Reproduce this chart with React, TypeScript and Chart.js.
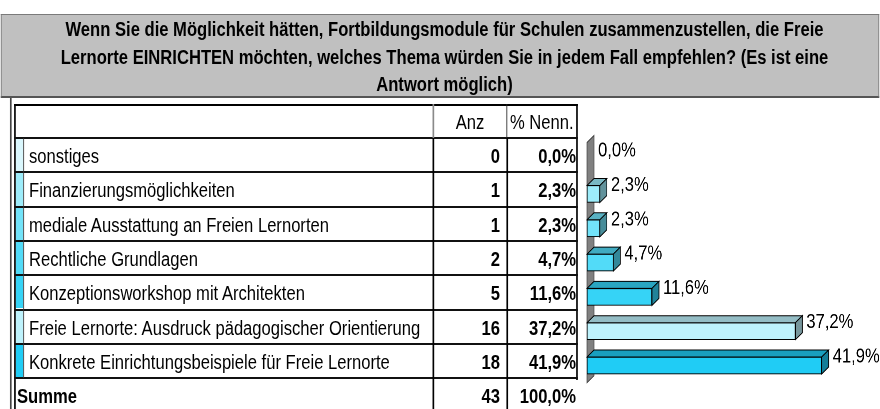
import React, { useEffect, useRef } from "react";
import { Chart, registerables } from "chart.js";

Chart.register(...registerables);

// ---- data ----
const titleLines = [
  "Wenn Sie die Möglichkeit hätten, Fortbildungsmodule für Schulen zusammenzustellen, die Freie",
  "Lernorte EINRICHTEN möchten, welches Thema würden Sie in jedem Fall empfehlen? (Es ist eine",
  "Antwort möglich)",
];
const categories = [
  "sonstiges",
  "Finanzierungsmöglichkeiten",
  "mediale Ausstattung an Freien Lernorten",
  "Rechtliche Grundlagen",
  "Konzeptionsworkshop mit Architekten",
  "Freie Lernorte: Ausdruck pädagogischer Orientierung",
  "Konkrete Einrichtungsbeispiele für Freie Lernorte",
];
const counts = [0, 1, 1, 2, 5, 16, 18];
const percents = [0.0, 2.3, 2.3, 4.7, 11.6, 37.2, 41.9];
const rowColors = ["#DAF7FD", "#9DECFA", "#72E3F9", "#52DBF8", "#36D3F6", "#BEF2FC", "#20CCF5"];
const headerLabels = ["Anz", "% Nenn."];
const totalLabel = "Summe";
const totalCount = 43;
const totalPercent = 100.0;
const axisMax = 50;

const fmt = (v: number) => v.toFixed(1).replace(".", ",") + "%";

// ---- layout (the picture is horizontally compressed) ----
const S = 880 / 1060;
const X = (real: number) => real / S;
const FONT = "'Liberation Sans', Arial, Helvetica, sans-serif";

const tableLeft = X(14);
const stripRight = X(24);
const col1 = X(433);
const col2 = X(507);
const tableRight = X(578);
const headTop = 104;
const bodyTop = 138;
const rowH = 34.3;
const sumTop = bodyTop + categories.length * rowH;

function shade(hex: string, f: number) {
  const n = parseInt(hex.slice(1), 16);
  const r = Math.round(((n >> 16) & 255) * f);
  const g = Math.round(((n >> 8) & 255) * f);
  const b = Math.round((n & 255) * f);
  return `rgb(${r},${g},${b})`;
}

const DX = X(7);
const DY = 7;

const bar3d = {
  id: "bar3d",
  beforeDatasetsDraw(chart: any) {
    const { ctx, chartArea } = chart;
    const l = chartArea.left;
    const t = chartArea.top;
    const b = chartArea.bottom;
    ctx.save();
    ctx.beginPath();
    ctx.moveTo(l, b);
    ctx.lineTo(l, t);
    ctx.lineTo(l + DX, t - DY);
    ctx.lineTo(l + DX, b - DY);
    ctx.closePath();
    ctx.fillStyle = "#808080";
    ctx.fill();
    ctx.strokeStyle = "#3a3a3a";
    ctx.lineWidth = 1;
    ctx.stroke();
    ctx.restore();
  },
  afterDatasetsDraw(chart: any) {
    const { ctx } = chart;
    const meta = chart.getDatasetMeta(0);
    const ds = chart.data.datasets[0];
    ctx.save();
    meta.data.forEach((el: any, i: number) => {
      const { x, y, base, height } = el.getProps(["x", "y", "base", "height"], true);
      const top = y - height / 2;
      const bottom = y + height / 2;
      const v = ds.data[i] as number;
      const col = (ds.backgroundColor as string[])[i];
      if (v > 0) {
        ctx.lineWidth = 1;
        ctx.strokeStyle = "#000";
        ctx.beginPath();
        ctx.moveTo(base, top);
        ctx.lineTo(base + DX, top - DY);
        ctx.lineTo(x + DX, top - DY);
        ctx.lineTo(x, top);
        ctx.closePath();
        ctx.fillStyle = shade(col, 0.78);
        ctx.fill();
        ctx.stroke();
        ctx.beginPath();
        ctx.moveTo(x, top);
        ctx.lineTo(x + DX, top - DY);
        ctx.lineTo(x + DX, bottom - DY);
        ctx.lineTo(x, bottom);
        ctx.closePath();
        ctx.fillStyle = shade(col, 0.62);
        ctx.fill();
        ctx.stroke();
      }
      ctx.fillStyle = "#000";
      ctx.font = `20px ${FONT}`;
      ctx.textBaseline = "middle";
      ctx.textAlign = "left";
      ctx.fillText(fmt(v), x + DX + X(4), top);
    });
    ctx.restore();
  },
};

const CANVAS_LEFT = 690;
const CANVAS_TOP = 120;
const CANVAS_W = 370;
const CANVAS_H = 289;

function Line({ x, y, w, h, c }: { x: number; y: number; w: number; h: number; c: string }) {
  return <div style={{ position: "absolute", left: x, top: y, width: w, height: h, background: c }} />;
}

function Cell({
  x, y, w, h, text, align, bold, pad = 0,
}: { x: number; y: number; w: number; h: number; text: string; align: "left" | "right" | "center"; bold?: boolean; pad?: number }) {
  return (
    <div
      style={{
        position: "absolute",
        left: x,
        top: y,
        width: w,
        height: h,
        lineHeight: h + 1 + "px",
        fontSize: 20,
        fontWeight: bold ? "bold" : "normal",
        textAlign: align,
        whiteSpace: "nowrap",
        paddingLeft: align === "left" ? pad : 0,
        paddingRight: align === "right" ? pad : 0,
        boxSizing: "border-box",
        color: "#000",
      }}
    >
      {text}
    </div>
  );
}

export default function App() {
  const ref = useRef<HTMLCanvasElement>(null);

  useEffect(() => {
    const canvas = ref.current!;
    const chart = new Chart(canvas, {
      type: "bar",
      data: {
        labels: categories,
        datasets: [
          {
            data: percents,
            backgroundColor: rowColors,
            borderColor: "#000",
            borderWidth: 1,
            borderSkipped: false,
            barThickness: 17,
          },
        ],
      },
      options: {
        indexAxis: "y",
        animation: false,
        responsive: false,
        devicePixelRatio: 2,
        layout: { padding: { left: X(587) - CANVAS_LEFT, right: CANVAS_LEFT + CANVAS_W - X(867), top: 22.5, bottom: 26.3 } },
        plugins: { legend: { display: false }, tooltip: { enabled: false } },
        scales: {
          x: { display: false, min: 0, max: axisMax },
          y: { display: false },
        },
      },
      plugins: [bar3d],
    } as any);
    return () => chart.destroy();
  }, []);

  const lines: React.ReactNode[] = [];
  // outer frame
  lines.push(<Line key="ol" x={X(10)} y={98} w={1.5} h={311} c="#444" />);
  // table borders
  lines.push(<Line key="tl" x={tableLeft} y={headTop} w={2} h={409 - headTop} c="#000" />);
  lines.push(<Line key="tt" x={tableLeft} y={headTop} w={tableRight - tableLeft} h={2} c="#000" />);
  lines.push(<Line key="tr" x={tableRight - 2} y={headTop} w={2} h={sumTop - headTop + 2} c="#000" />);
  for (let i = 0; i <= categories.length; i++) {
    lines.push(<Line key={"h" + i} x={tableLeft} y={bodyTop + i * rowH - 1} w={tableRight - tableLeft} h={2} c="#111" />);
  }
  lines.push(<Line key="sr" x={stripRight - 1} y={bodyTop} w={1.5} h={sumTop - bodyTop} c="#333" />);
  lines.push(<Line key="c1h" x={col1 - 1} y={headTop} w={2} h={bodyTop - headTop} c="#8a8a8a" />);
  lines.push(<Line key="c2h" x={col2 - 1} y={headTop} w={1.5} h={bodyTop - headTop} c="#222" />);
  lines.push(<Line key="c1" x={col1 - 1} y={bodyTop} w={2.5} h={409 - bodyTop} c="#000" />);
  lines.push(<Line key="c2" x={col2 - 1} y={bodyTop} w={2.5} h={409 - bodyTop} c="#000" />);

  return (
    <div style={{ position: "fixed", left: 0, top: 0, width: 880, height: 409, overflow: "hidden", background: "#fff" }}>
      <div
        style={{
          position: "absolute",
          left: 0,
          top: 0,
          width: 1060,
          height: 409,
          transform: `scaleX(${S})`,
          transformOrigin: "0 0",
          fontFamily: FONT,
        }}
      >
        {/* title box */}
        <div
          style={{
            position: "absolute",
            left: X(1),
            top: 14,
            width: X(879) - X(1),
            height: 84,
            boxSizing: "border-box",
            background: "#C0C0C0",
            borderTop: "1px solid #7a7a7a",
            borderLeft: "1px solid #7a7a7a",
            borderRight: "1px solid #7a7a7a",
            borderBottom: "2px solid #555",
            textAlign: "center",
            fontWeight: "bold",
            fontSize: 20,
            lineHeight: "27.5px",
            paddingTop: 1,
            paddingLeft: X(9),
            color: "#000",
          }}
        >
          {titleLines.map((t, i) => (
            <div key={i} style={{ whiteSpace: "nowrap" }}>{t}</div>
          ))}
        </div>

        {/* color strips */}
        {rowColors.map((c, i) => (
          <div
            key={"s" + i}
            style={{ position: "absolute", left: tableLeft + 2, top: bodyTop + i * rowH + 1, width: stripRight - tableLeft - 3, height: rowH - 2, background: c }}
          />
        ))}

        {lines}

        {/* header row */}
        <Cell x={col1} y={headTop + 1} w={col2 - col1} h={bodyTop - headTop} text={headerLabels[0]} align="center" />
        <Cell x={col2} y={headTop + 1} w={tableRight - col2} h={bodyTop - headTop} text={headerLabels[1]} align="left" pad={X(3)} />

        {/* body rows */}
        {categories.map((c, i) => {
          const y = bodyTop + i * rowH + 1;
          return (
            <React.Fragment key={"r" + i}>
              <Cell x={stripRight} y={y} w={col1 - stripRight} h={rowH} text={c} align="left" pad={X(5)} />
              <Cell x={col1} y={y} w={col2 - col1} h={rowH} text={String(counts[i])} align="right" bold pad={X(7)} />
              <Cell x={col2} y={y} w={tableRight - col2} h={rowH} text={fmt(percents[i])} align="right" bold pad={X(2)} />
            </React.Fragment>
          );
        })}

        {/* total row */}
        <Cell x={X(14)} y={sumTop + 1} w={col1 - X(14)} h={rowH} text={totalLabel} align="left" bold pad={X(3)} />
        <Cell x={col1} y={sumTop + 1} w={col2 - col1} h={rowH} text={String(totalCount)} align="right" bold pad={X(7)} />
        <Cell x={col2} y={sumTop + 1} w={tableRight - col2} h={rowH} text={fmt(totalPercent)} align="right" bold pad={X(2)} />

        {/* chart */}
        <div style={{ position: "absolute", left: CANVAS_LEFT, top: CANVAS_TOP, width: CANVAS_W, height: CANVAS_H }}>
          <canvas ref={ref} width={CANVAS_W} height={CANVAS_H} style={{ width: CANVAS_W, height: CANVAS_H, display: "block" }} />
        </div>
      </div>
    </div>
  );
}
